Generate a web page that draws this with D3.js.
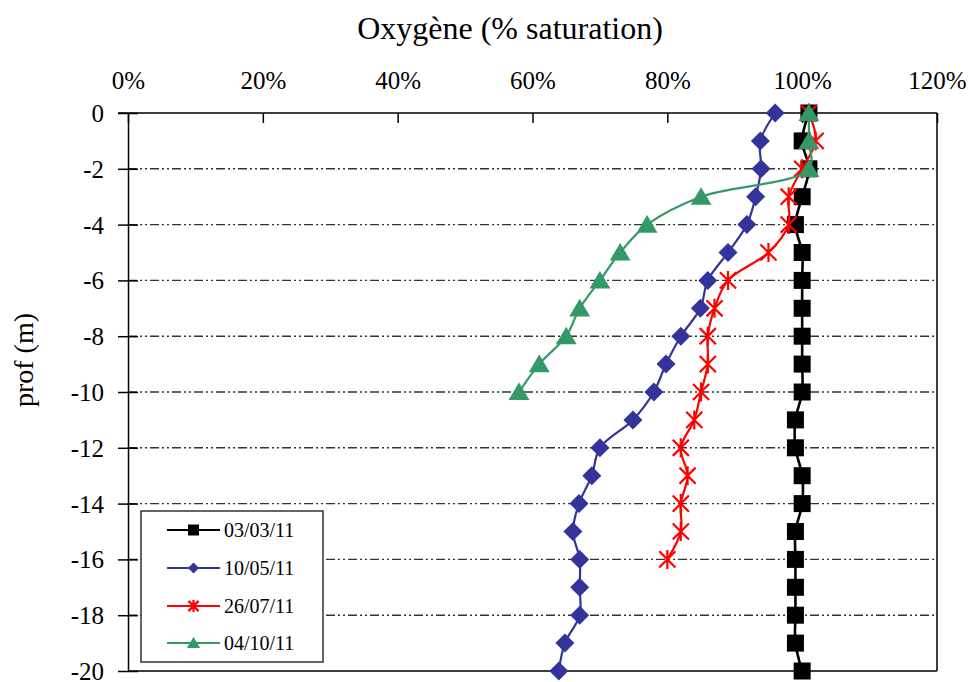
<!DOCTYPE html>
<html>
<head>
<meta charset="utf-8">
<script src="https://cdn.jsdelivr.net/npm/d3@7"></script>
<style>
  html, body { margin: 0; padding: 0; background: #fff; }
  svg { display: block; }
  svg text { font-family: "Liberation Serif", "Times New Roman", "DejaVu Serif", serif !important; fill: #000; }
</style>
</head>
<body>
<svg id="chart" width="971" height="682"></svg>
<script>
// ---- data ----
const xTicks = [0, 20, 40, 60, 80, 100, 120];
const yTicks = [0, -2, -4, -6, -8, -10, -12, -14, -16, -18, -20];
const gridDepths = [-2, -4, -6, -8, -10, -12, -14, -16, -18];

const depths = [0, -1, -2, -3, -4, -5, -6, -7, -8, -9, -10, -11, -12, -13, -14, -15, -16, -17, -18, -19, -20];
const s030311 = [101, 100, 101, 100, 99, 100, 100, 100, 100, 100, 100, 99, 99, 100, 100, 99, 99, 99, 99, 99, 100];
const s100511 = [96.0, 93.8, 93.9, 93.1, 91.8, 89.0, 86.0, 84.9, 82.0, 79.8, 78.0, 74.9, 70.0, 68.8, 66.9, 66.0, 67.0, 67.0, 67.0, 64.8, 63.9];
const s260711 = [101, 102, 100, 98, 98, 95, 89, 87, 86, 86, 85, 84, 82, 83, 82, 82, 80];
const s041011 = [101, 101, 101, 85, 77, 73, 70, 67, 65, 61, 58];

const seriesNames = ["03/03/11", "10/05/11", "26/07/11", "04/10/11"];
const seriesValues = [s030311, s100511, s260711, s041011];
const seriesColors = ["#000000", "#333399", "#ff0000", "#339966"];
const seriesMarkers = ["square", "diamond", "star", "triangle"];

const titleText = "Oxygène (% saturation)";
const yLabelText = "prof (m)";

// ---- layout ----
const FONT = '"Liberation Serif", "Times New Roman", serif';
const svg = d3.select("#chart");
const L = 128, R = 937, T = 113, B = 671;
const x = d3.scaleLinear().domain([0, 120]).range([L, R]);
const y = d3.scaleLinear().domain([0, -20]).range([T, B]);

// grid lines
svg.append("g").selectAll("line").data(gridDepths).join("line")
  .attr("x1", L).attr("x2", R)
  .attr("y1", d => y(d)).attr("y2", d => y(d))
  .attr("stroke", "#333").attr("stroke-width", 1.4)
  .attr("stroke-dasharray", "9,3,2,3,2,3");

// frame right & bottom
svg.append("line").attr("x1", R).attr("x2", R).attr("y1", T).attr("y2", B)
  .attr("stroke", "#000").attr("stroke-width", 1.5);
svg.append("line").attr("x1", L).attr("x2", R).attr("y1", B).attr("y2", B)
  .attr("stroke", "#000").attr("stroke-width", 1.5);

// top x axis
const xAxis = d3.axisTop(x).tickValues(xTicks).tickFormat(d => d + "%").tickSizeInner(-10).tickSizeOuter(0).tickPadding(24);
const gx = svg.append("g").attr("transform", `translate(0,${T})`).call(xAxis);
gx.attr("font-family", null).attr("font-size", null);
gx.select(".domain").attr("stroke", "#000").attr("stroke-width", 1.5).attr("d", `M${L - 10},0H${R}`);
gx.selectAll(".tick line").attr("stroke", "#000").attr("stroke-width", 1.5);
gx.selectAll(".tick text").style("font-family", FONT).style("font-size", "25px").attr("fill", "#000")
  .attr("y", -24).attr("dy", 0);

// left y axis
const yAxis = d3.axisLeft(y).tickValues(yTicks).tickFormat(d => d === 0 ? "0" : "-" + Math.abs(d)).tickSizeInner(10).tickSizeOuter(0).tickPadding(14);
const gy = svg.append("g").attr("transform", `translate(${L},0)`).call(yAxis);
gy.attr("font-family", null).attr("font-size", null);
gy.select(".domain").attr("stroke", "#000").attr("stroke-width", 1.5);
gy.selectAll(".tick line").attr("stroke", "#000").attr("stroke-width", 1.5).attr("x1", 10).attr("x2", -10);
gy.selectAll(".tick text").style("font-family", FONT).style("font-size", "25px").attr("fill", "#000")
  .attr("dy", "0.34em");

// titles
svg.append("text").attr("x", 510).attr("y", 39).attr("text-anchor", "middle")
  .style("font-family", FONT).style("font-size", "32px").text(titleText);
svg.append("text").attr("transform", "translate(33,360) rotate(-90)").attr("text-anchor", "middle")
  .style("font-family", FONT).style("font-size", "28px").text(yLabelText);

// markers
function drawMarker(g, type, cx, cy, size, color) {
  const h = size / 2;
  if (type === "square") {
    g.append("rect").attr("x", cx - h).attr("y", cy - h).attr("width", size).attr("height", size).attr("fill", color);
  } else if (type === "diamond") {
    g.append("path").attr("d", `M${cx},${cy - h}L${cx + h},${cy}L${cx},${cy + h}L${cx - h},${cy}Z`).attr("fill", color);
  } else if (type === "triangle") {
    const w = size * 1.1 / 2;
    g.append("path").attr("d", `M${cx},${cy - h}L${cx + w},${cy + h * 0.85}L${cx - w},${cy + h * 0.85}Z`).attr("fill", color);
  } else if (type === "star") {
    const a = h * 0.85;
    g.append("path").attr("d", `M${cx - a},${cy - a}L${cx + a},${cy + a}M${cx + a},${cy - a}L${cx - a},${cy + a}M${cx},${cy - h}L${cx},${cy + h}`)
      .attr("stroke", color).attr("stroke-width", 2.2).attr("fill", "none");
  }
}

const markerSize = { square: 17, diamond: 19, triangle: 19, star: 19 };
const line = d3.line().x(d => x(d[0])).y(d => y(d[1])).curve(d3.curveCatmullRom.alpha(0.5));

seriesValues.forEach((vals, i) => {
  const pts = vals.map((v, k) => [v, depths[k]]);
  const g = svg.append("g");
  g.append("path").attr("d", line(pts)).attr("fill", "none")
    .attr("stroke", seriesColors[i]).attr("stroke-width", i === 0 ? 2.6 : 2.2);
  pts.forEach(p => drawMarker(g, seriesMarkers[i], x(p[0]), y(p[1]), markerSize[seriesMarkers[i]], seriesColors[i]));
});

// legend
const lg = svg.append("g");
lg.append("rect").attr("x", 141).attr("y", 511).attr("width", 182).attr("height", 151)
  .attr("fill", "#fff").attr("stroke", "#333").attr("stroke-width", 1.5);
const legY = [530, 568, 606, 643];
const legMarkerSize = { square: 11, diamond: 11, triangle: 12, star: 12 };
seriesNames.forEach((name, i) => {
  const yy = legY[i];
  lg.append("line").attr("x1", 167).attr("x2", 220).attr("y1", yy).attr("y2", yy)
    .attr("stroke", seriesColors[i]).attr("stroke-width", 2);
  drawMarker(lg, seriesMarkers[i], 193.5, yy, legMarkerSize[seriesMarkers[i]], seriesColors[i]);
  lg.append("text").attr("x", 224).attr("y", yy + 7).style("font-family", FONT).style("font-size", "20px").text(name);
});
</script>
</body>
</html>
